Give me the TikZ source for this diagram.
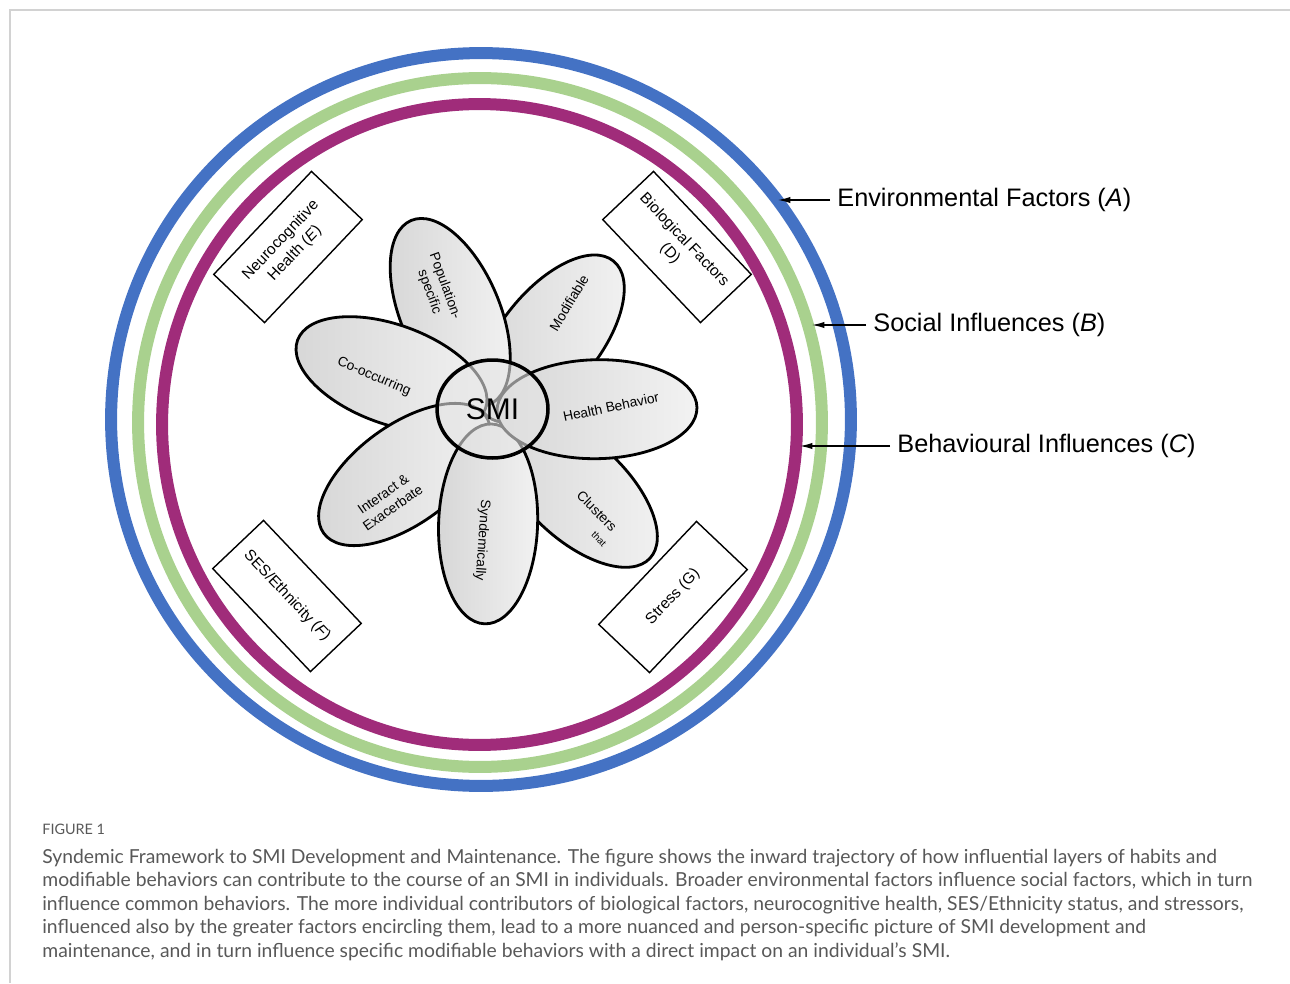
\documentclass[tikz,border=0pt]{standalone}
\usepackage{fontspec}
\setmainfont{Liberation Sans}
\newfontfamily\capfont{Lato}
\usepackage{xcolor}
\usepackage{tikz}
\usetikzlibrary{arrows.meta,shapes.geometric}

\definecolor{envblue}{RGB}{68,114,196}
\definecolor{socgreen}{RGB}{169,209,142}
\definecolor{behpurple}{RGB}{160,44,122}
\definecolor{capgray}{RGB}{88,88,88}

\begin{document}
\begin{tikzpicture}[x=0.02cm,y=-0.02cm,
  ring/.style={line width=0.24cm},
  factor/.style={draw,line width=0.8pt,minimum width=2.84cm,minimum height=1.4cm,
    align=center,inner sep=1pt,font=\fontsize{8.8}{11}\selectfont},
  petal/.style={draw,ellipse,line width=1.6pt,minimum width=4cm,minimum height=1.98cm,
    inner sep=0pt,left color=gray!32,middle color=white,right color=gray!10},
  plabel/.style={align=center,inner sep=1pt,font=\fontsize{7.8}{9.4}\selectfont},
  layer/.style={anchor=west,inner sep=4pt,font=\fontsize{14.4}{17}\selectfont},
  pointer/.style={-{Latex[length=7pt,width=3.5pt]},line width=0.6pt}]
  \useasboundingbox (0,0) rectangle (1290,983);
  \draw[gray!35,line width=0.8pt] (10,983) -- (10,10) -- (1290,10);

  \draw[ring,envblue] (481,419.5) ellipse[x radius=7.40cm,y radius=7.33cm];
  \draw[ring,socgreen] (480,422.5) ellipse[x radius=6.84cm,y radius=6.89cm];
  \draw[ring,behpurple] (479.5,424.5) ellipse[x radius=6.35cm,y radius=6.41cm];

  \node[factor,rotate=46.5] (bneuro) at (288,247) {Neurocognitive\\Health (\textit{E})};
  \node[factor,rotate=-46.5] (bbio) at (677,247) {Biological Factors\\(D)};
  \node[factor,rotate=-46.5] (bses) at (287,596) {SES/Ethnicity (\textit{F})};
  \node[factor,rotate=46.5] (bstress) at (673,597) {Stress (G)};

  \node[petal,rotate=51] (pmod) at (550.5,338.7) {};
  \node[petal,rotate=113] (ppop) at (450.2,312.5) {};
  \node[petal,rotate=160] (pco) at (391.5,374.4) {};
  \node[petal,rotate=-144] (pint) at (404.6,474.5) {};
  \node[petal,rotate=-43] (pclu) at (576.8,490.1) {};
  \node[petal,rotate=-92] (psyn) at (488.1,523.9) {};
  \node[petal,rotate=1] (phb) at (597,409.2) {};

  \node[draw,ellipse,line width=2pt,minimum width=2.22cm,minimum height=1.96cm,
    fill=gray!20,fill opacity=0.6,text opacity=1,font=\fontsize{17}{20}\selectfont]
    (smi) at (492.5,409) {SMI};

  \node[plabel,rotate=-70] (lpop) at (437,289) {Population-\\specific};
  \node[plabel,rotate=59] (lmod) at (569,303) {Modifiable};
  \node[plabel,rotate=12] (lhb) at (611,407) {Health Behavior};
  \node[plabel,rotate=-45] (lclu) at (597,511) {Clusters};
  \node[plabel,rotate=-45,font=\fontsize{5.5}{6}\selectfont] (lthat) at (599,539) {that};
  \node[plabel,rotate=-94] (lsyn) at (482,540) {Syndemically};
  \node[plabel,rotate=35] (lint) at (388,501) {Interact \&\\Exacerbate};
  \node[plabel,rotate=-23] (lco) at (374,377) {Co-occurring};

  \coordinate (envtip) at (778,200);
  \coordinate (soctip) at (812,325);
  \coordinate (behtip) at (800,446);
  \node[layer] (envlbl) at (830,200) {Environmental Factors (\textit{A})};
  \node[layer] (soclbl) at (866,325) {Social Influences (\textit{B})};
  \node[layer] (behlbl) at (890,446) {Behavioural Influences (\textit{C})};
  \draw[pointer] (envlbl.west) -- (envtip);
  \draw[pointer] (soclbl.west) -- (soctip);
  \draw[pointer] (behlbl.west) -- (behtip);

  \node[anchor=west,inner sep=0pt,text=capgray,font=\capfont\fontsize{8.2}{9.8}\selectfont]
    (figlbl) at (42,829) {FIGURE 1};
  \node[anchor=north west,align=left,inner sep=0pt,text=capgray,
    font=\capfont\fontsize{11}{13.3}\selectfont] (figcap) at (42,849)
    {Syndemic Framework to SMI Development and Maintenance. The figure shows the inward trajectory of how influential layers of habits and\\
     modifiable behaviors can contribute to the course of an SMI in individuals. Broader environmental factors influence social factors, which in turn\\
     influence common behaviors. The more individual contributors of biological factors, neurocognitive health, SES/Ethnicity status, and stressors,\\
     influenced also by the greater factors encircling them, lead to a more nuanced and person-specific picture of SMI development and\\
     maintenance, and in turn influence specific modifiable behaviors with a direct impact on an individual’s SMI.};
\end{tikzpicture}
\end{document}
